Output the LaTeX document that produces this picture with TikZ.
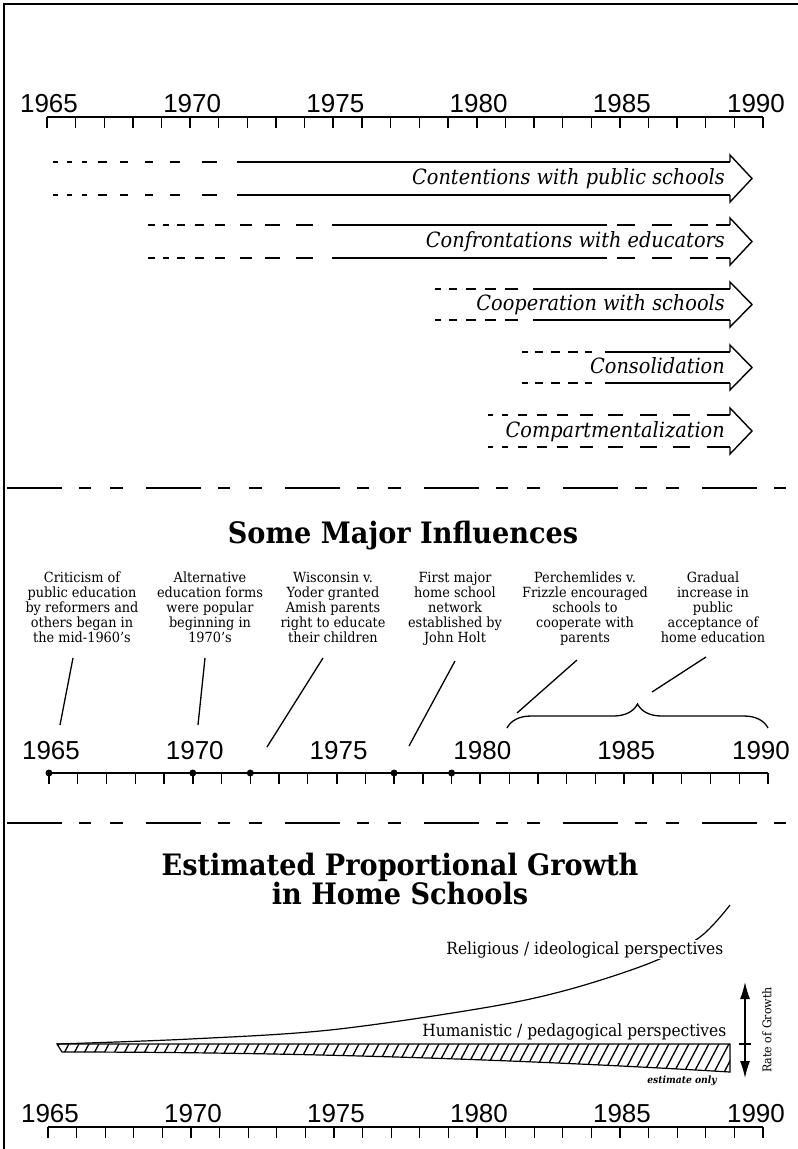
\documentclass[tikz,border=0pt]{standalone}
\usepackage{fontspec}
\setmainfont{DejaVu Serif}[FakeStretch=0.92]
\newfontfamily\yearfont{Liberation Sans}
\usetikzlibrary{arrows.meta,decorations.pathreplacing}

% year axis: #1 axis y, #2 left x, #3 right x, #4 label baseline, #5 name prefix
\newcommand\drawaxis[5]{%
  \draw[axisline] (#2,#1) coordinate (#5-start) -- (#3,#1) coordinate (#5-end);
  \foreach \k in {0,...,25}{%
    \pgfmathsetmacro\tx{#2+\k*((#3-#2)/25)}%
    \pgfmathtruncatemacro\ismajor{mod(\k,5)==0 ? 1 : 0}%
    \ifnum\ismajor=1
      \draw[majortick] (\tx,#1) -- (\tx,#1+11);
    \else
      \draw[minortick] (\tx,#1) -- (\tx,#1+11);
    \fi
  }%
  \foreach \k/\yr in {0/1965,5/1970,10/1975,15/1980,20/1985}{%
    \pgfmathsetmacro\tx{#2+2+\k*((#3-#2)/25)}%
    \node[yearlabel] (#5-\yr) at (\tx,#4) {\yr};
  }%
  \node[yearlabel] (#5-1990) at (#3-7,#4) {1990};
}

% arrow head of a band: #1 top y, #2 bottom y
\newcommand\bandhead[2]{%
  \draw[bandline] (730,#1) -- (730,#1-7) -- (752,{(#1+#2)/2}) -- (730,#2+7) -- (730,#2);
}
% pieces of the two rails of a band: #1 top y, #2 bottom y, #3 list of from/to
\newcommand\bandrails[3]{%
  \foreach \a/\b in {#3}{%
    \draw[bandline] (\a,#1) -- (\b,#1);
    \draw[bandline] (\a,#2) -- (\b,#2);
  }%
}

\begin{document}
\begin{tikzpicture}[x=1pt,y=-1pt,
  axisline/.style={line width=1.4pt},
  majortick/.style={line width=2pt},
  minortick/.style={line width=1.3pt},
  yearlabel/.style={font=\yearfont\fontsize{26}{26}\selectfont, anchor=base, inner sep=0pt},
  bandline/.style={line width=1.4pt, line join=miter},
  bandlabel/.style={font=\itshape\fontsize{21}{21}\selectfont, anchor=base east, inner sep=0pt},
  divider/.style={line width=1.2pt, dash pattern=on 55pt off 17pt on 12pt off 19pt on 13pt off 23pt},
  heading/.style={font=\bfseries\fontsize{29.5}{29}\selectfont, anchor=base, inner sep=0pt, align=center},
  influence/.style={font=\fontsize{14}{15}\selectfont, align=center, anchor=north, inner sep=0pt},
  leader/.style={line width=1.3pt},
  eventdot/.style={circle, fill=black, inner sep=0pt, minimum size=7pt},
  perspective/.style={font=\fontsize{16.8}{16.8}\selectfont, anchor=base east, inner sep=1.5pt, fill=white},
  growth/.style={line width=1.2pt}
]
\useasboundingbox (0,0) rectangle (798,1149);

% frame
\draw[line width=1.5pt] (4,1149) -- (4,4) -- (798,4);

% ---------- phases ----------
\drawaxis{117}{47}{763}{112}{top}

% Contentions with public schools
\bandrails{162}{195}{53/58,67/72,82/87,98/107,120/128,145/153,170/180,202/217,237/730}
\bandhead{162}{195}
\node[bandlabel] (contention) at (725,184) {Contentions with public schools};

% Confrontations with educators
\bandrails{225}{258}{148/155,163/169,177/185,195/204,215/225,240/252,265/280,296/313,332/607,617/635,652/672,690/708,716/730}
\bandhead{225}{258}
\node[bandlabel] (confrontation) at (725,247) {Confrontations with educators};

% Cooperation with schools
\bandrails{289}{320}{435/441,449/457,466/476,485/496,505/518,533/730}
\bandhead{289}{320}
\node[bandlabel] (cooperation) at (725,310) {Cooperation with schools};

% Consolidation
\bandrails{352}{383}{522/528,535/543,551/560,568/578,585/592,605/730}
\bandhead{352}{383}
\node[bandlabel] (consolidation) at (725,373) {Consolidation};

% Compartmentalization
\bandrails{415}{447}{488/493,502/508,518/527,537/547,557/568,580/593,608/623,640/657,673/690,707/730}
\bandhead{415}{447}
\node[bandlabel] (compartment) at (725,437) {Compartmentalization};

\draw[divider] (7,488) -- (798,488);

% ---------- influences ----------
\node[heading] (influences) at (403,543) {Some Major Influences};

\node[influence] (inf1) at (82,572) {Criticism of\\public education\\by reformers and\\others began in\\the mid-1960's};
\node[influence] (inf2) at (210,572) {Alternative\\education forms\\were popular\\beginning in\\1970's};
\node[influence] (inf3) at (333,572) {Wisconsin v.\\Yoder granted\\Amish parents\\right to educate\\their children};
\node[influence] (inf4) at (455,572) {First major\\home school\\network\\established by\\John Holt};
\node[influence] (inf5) at (585,572) {Perchemlides v.\\Frizzle encouraged\\schools to\\cooperate with\\parents};
\node[influence] (inf6) at (713,572) {Gradual\\increase in\\public\\acceptance of\\home education};

\drawaxis{773}{49}{768}{759}{mid}

\node[eventdot] (ev1965) at (49,773) {};
\node[eventdot] (ev1970) at (192.8,773) {};
\node[eventdot] (ev1972) at (250.3,773) {};
\node[eventdot] (ev1977) at (394.1,773) {};
\node[eventdot] (ev1979) at (451.6,773) {};

\coordinate (l1a) at (73,658);  \coordinate (l1b) at (60,725);
\coordinate (l2a) at (205,658); \coordinate (l2b) at (198,725);
\coordinate (l3a) at (323,658); \coordinate (l3b) at (267,747);
\coordinate (l4a) at (455,661); \coordinate (l4b) at (409,746);
\coordinate (l5a) at (577,660); \coordinate (l5b) at (517,713);
\coordinate (l6a) at (706,657); \coordinate (l6b) at (652,692);
\foreach \i in {1,...,6}{\draw[leader] (l\i a) -- (l\i b);}

\coordinate (braceL) at (507,728);
\coordinate (braceR) at (768,728);
\draw[line width=1.3pt, decorate, decoration={brace, amplitude=24pt}] (braceL) -- (braceR);

\draw[divider] (7,823) -- (798,823);

% ---------- growth ----------
\node[heading] (growthtitle) at (400,904) {Estimated Proportional Growth\\in Home Schools};

\def\wedgepath{(57,1044) -- (730,1044) -- (730,1072)
  -- plot[domain=730:62, samples=40] (\x,{1052+20*((\x-62)/668)^2}) -- cycle}
\begin{scope}
  \clip \wedgepath;
  \foreach \hx in {40,50,...,760}{\draw[line width=1.3pt] (\hx,1080) -- (\hx+21,1040);}
\end{scope}
\draw[growth] \wedgepath;

\draw[growth] plot[smooth, tension=0.55] coordinates {(57,1044) (190,1039) (330,1030) (483,1008) (567,990) (650,963) (700,937) (730,905)};

\node[perspective] (religious) at (725,954) {Religious / ideological perspectives};
\node[perspective, fill=none] (humanistic) at (728,1036) {Humanistic / pedagogical perspectives};
\node[font=\bfseries\itshape\fontsize{10}{10}\selectfont, inner sep=0pt] (estimate) at (682,1081) {estimate only};

\coordinate (rateTop) at (745,982);
\coordinate (rateBot) at (745,1078);
\draw[line width=1.3pt, {Latex[length=17pt,width=10pt]}-{Latex[length=17pt,width=10pt]}] (rateTop) -- (rateBot);
\draw[line width=1.2pt] (739,1044) -- (751,1044);
\node[rotate=90, font=\fontsize{12}{12}\selectfont, inner sep=0pt] (rate) at (767,1030) {Rate of Growth};

\drawaxis{1127}{48}{763}{1122}{bot}
\end{tikzpicture}
\end{document}
